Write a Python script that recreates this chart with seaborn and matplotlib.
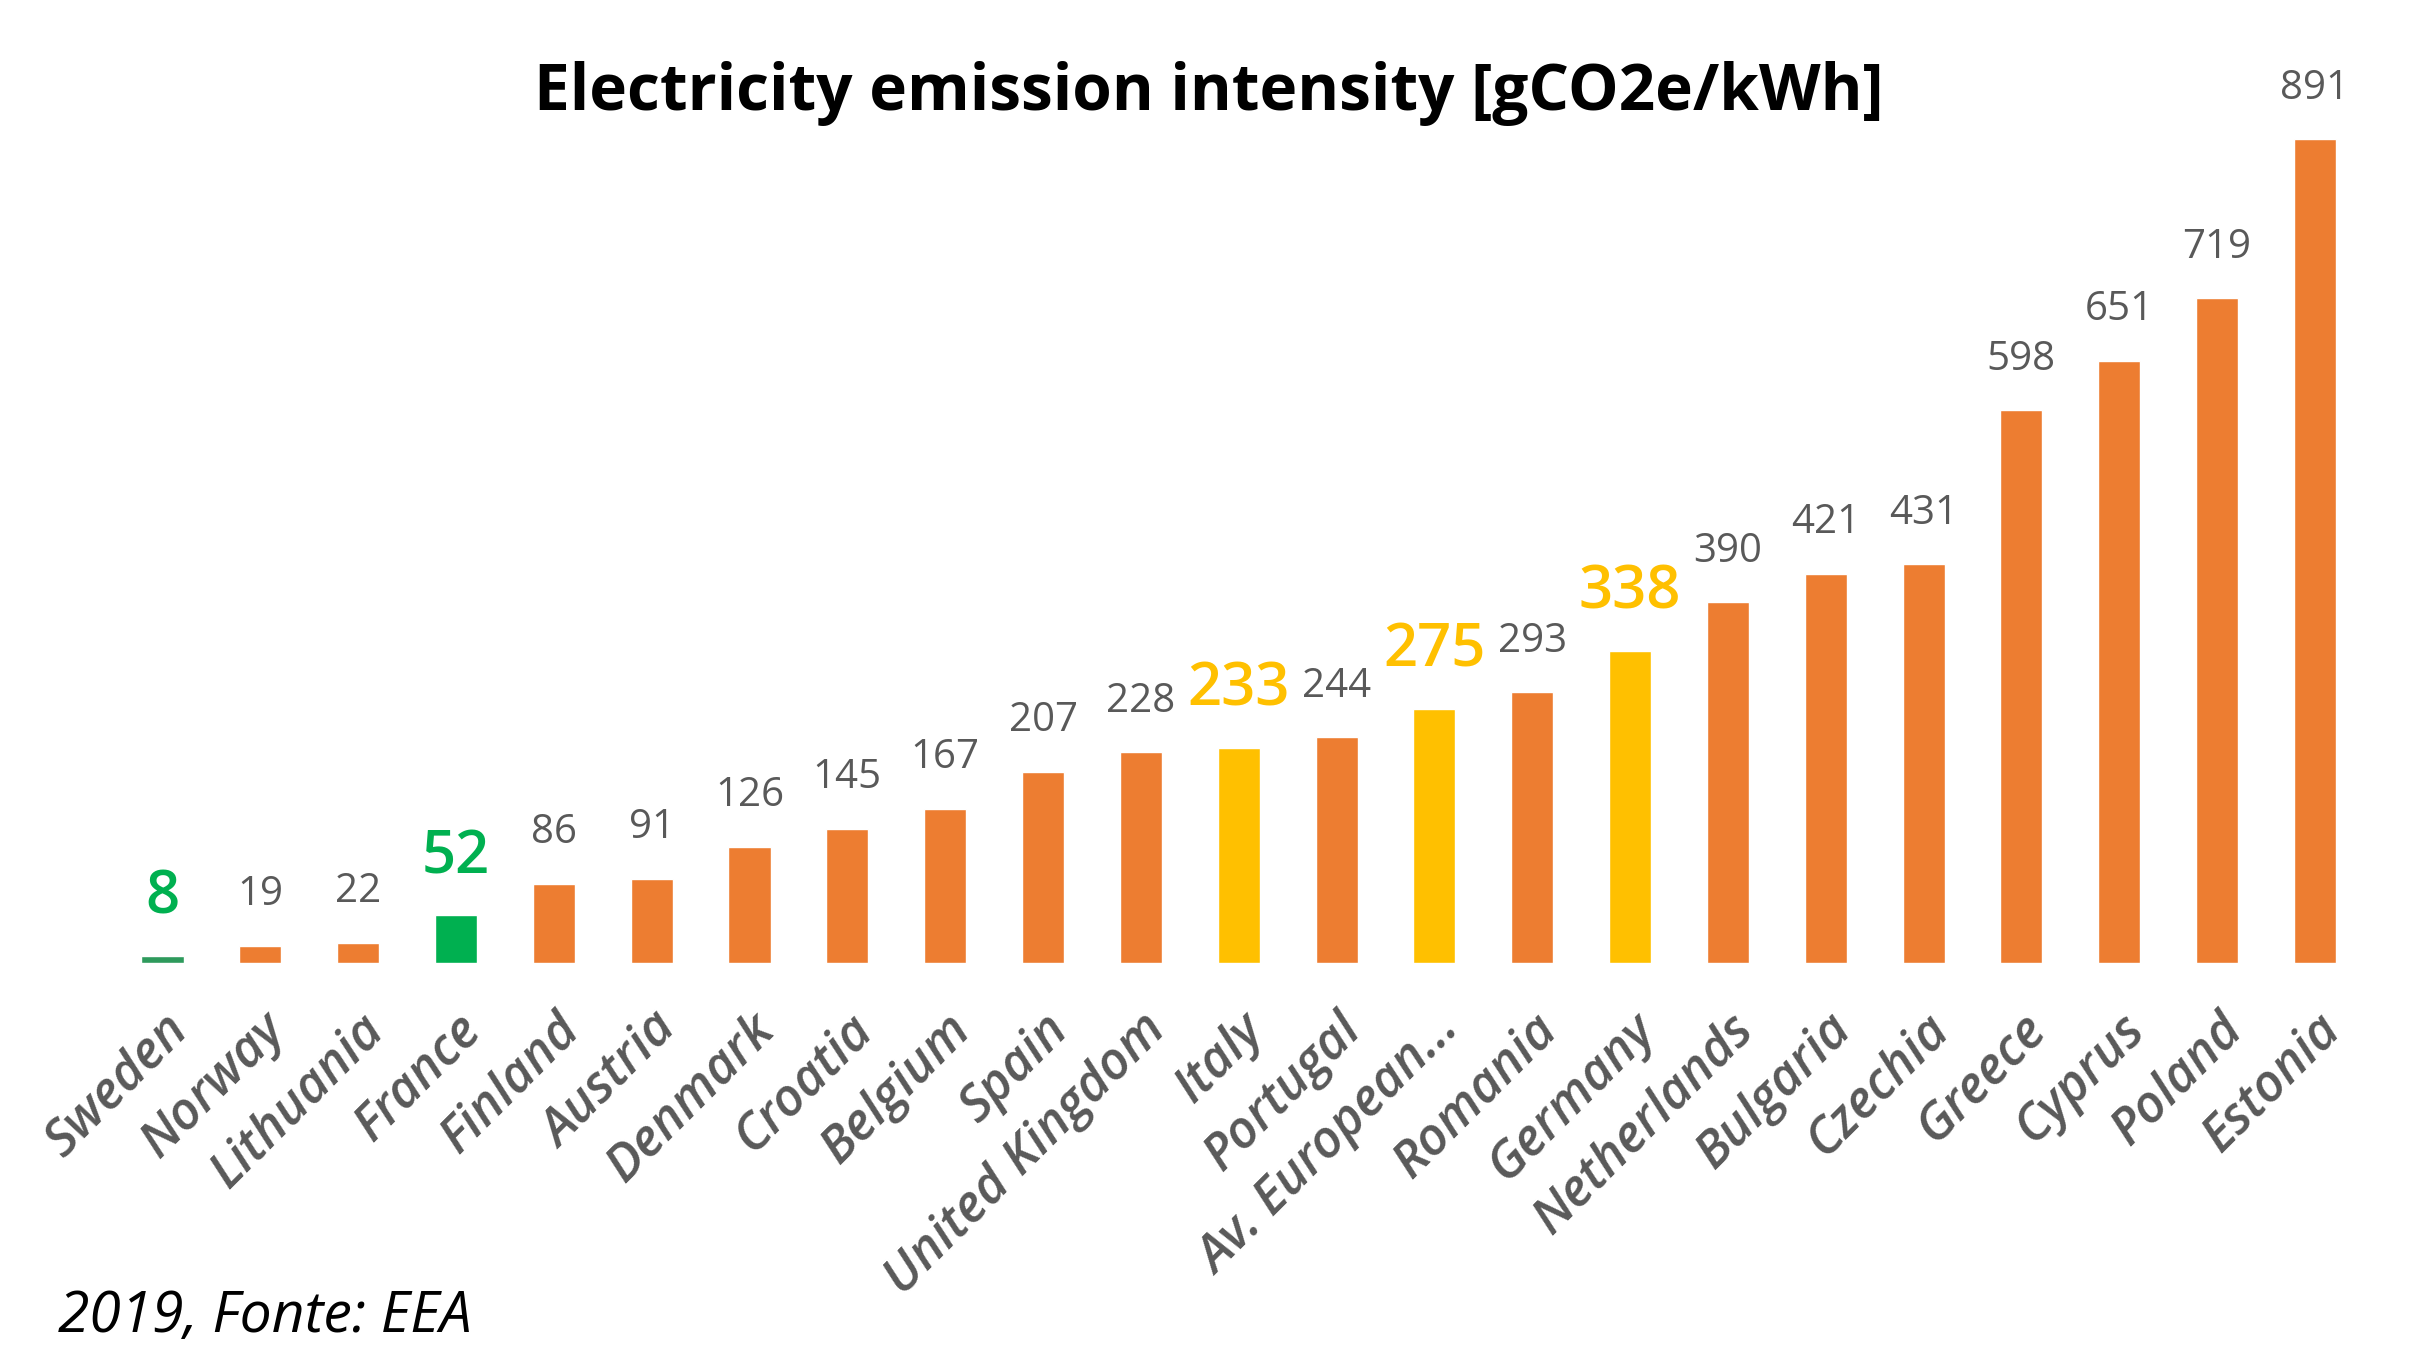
import matplotlib
matplotlib.use("Agg")
import matplotlib.pyplot as plt
import seaborn as sns

# dati (EEA 2019)
countries = ["Sweden", "Norway", "Lithuania", "France", "Finland", "Austria",
             "Denmark", "Croatia", "Belgium", "Spain", "United Kingdom", "Italy",
             "Portugal", "Av. European...", "Romania", "Germany", "Netherlands",
             "Bulgaria", "Czechia", "Greece", "Cyprus", "Poland", "Estonia"]
values = [8, 19, 22, 52, 86, 91, 126, 145, 167, 207, 228, 233, 244, 275, 293,
          338, 390, 421, 431, 598, 651, 719, 891]
groups = ["low_dark", "normal", "normal", "low", "normal", "normal", "normal",
          "normal", "normal", "normal", "normal", "mid", "normal", "mid", "normal",
          "mid", "normal", "normal", "normal", "normal", "normal", "normal", "normal"]

bar_colors = {"normal": "#ED7D31", "mid": "#FFC000", "low": "#00B050", "low_dark": "#2E9A5C"}
label_colors = {"normal": "#595959", "mid": "#FFC000", "low": "#00B050", "low_dark": "#00B050"}

sns.set_theme(style="white")
plt.rcParams["font.family"] = ["Open Sans", "DejaVu Sans"]

fig = plt.figure(figsize=(24.17, 13.68), dpi=100)
ax = fig.add_axes([0.047, 0.296, 0.931, 0.676])

palette = [bar_colors[g] for g in groups]
sns.barplot(x=countries, y=values, hue=countries, palette=palette, legend=False,
            width=0.43, ax=ax, saturation=1)

for i, (v, g) in enumerate(zip(values, groups)):
    big = g != "normal"
    ax.annotate(str(v), xy=(i, v), xytext=(0, 20 if big else 22),
                textcoords="offset points", ha="center", va="bottom",
                color=label_colors[g], fontsize=43 if big else 29,
                fontweight="semibold" if big else "normal")

ax.set_xlim(-0.5, len(countries) - 0.5)
ax.set_ylim(0, 1000)
ax.set_yticks([])
ax.set_xlabel("")
ax.set_ylabel("")
sns.despine(ax=ax, left=True, bottom=True)
ax.tick_params(axis="x", length=0, pad=30)
ax.set_xticks(range(len(countries)))
ax.set_xticklabels(countries, rotation=45, ha="right", va="top",
                   rotation_mode="anchor", fontsize=37, color="#595959",
                   style="italic", fontweight="semibold")

fig.text(0.5, 0.932, "Electricity emission intensity [gCO2e/kWh]",
         ha="center", va="center", fontsize=46, fontweight="bold", color="black")
fig.text(0.024, 0.037, "2019, Fonte: EEA", ha="left", va="center",
         fontsize=41, style="italic", color="black")

fig.savefig("out.png", dpi=100)
